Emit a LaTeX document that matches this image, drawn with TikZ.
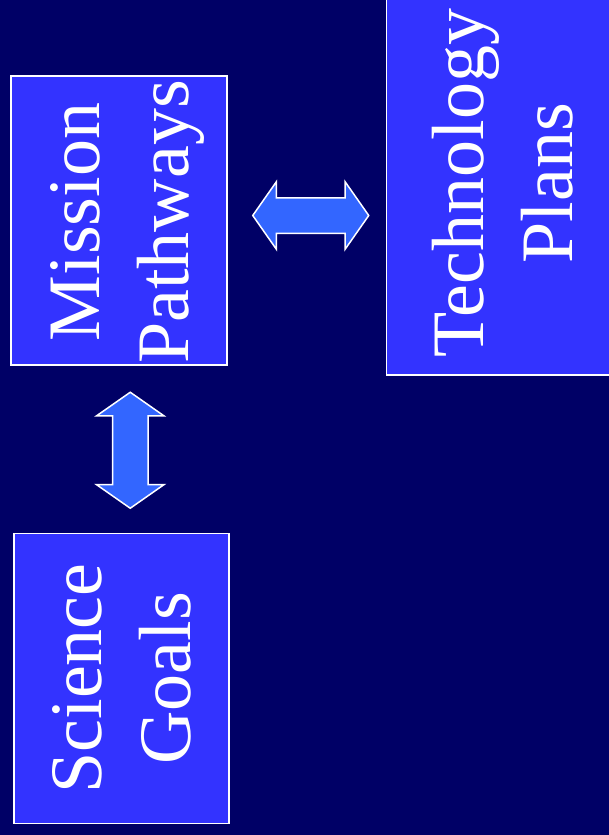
\documentclass[tikz,border=0pt]{standalone}
\usepackage{fontspec}
\setmainfont{Liberation Serif}
\usepackage{tikz}
\usetikzlibrary{calc, positioning, shapes.arrows}
\definecolor{navy}{RGB}{0,0,102}
\definecolor{boxblue}{RGB}{51,51,255}
\definecolor{arrblue}{RGB}{51,102,255}

\begin{document}
\begin{tikzpicture}[x=1pt, y=-1pt,
box/.style = {draw = white, line width = 1.5pt, fill = boxblue, inner sep = 0pt, minimum width = 216pt, minimum height = 289pt},
txt/.style = {text = white, font = \fontsize{74}{89}\selectfont, align = center, inner sep = 0pt, rotate = 90},
dbl/.style = {double arrow, draw = white, line width = 1.5pt, fill = arrblue, inner xsep = 0pt, inner ysep = 17pt,
  minimum height = 116pt, minimum width = 66pt, double arrow head extend = 16pt, double arrow tip angle = 110}]
\useasboundingbox (0,0) rectangle (609,835);
\fill[navy] (0,0) rectangle (609,835);
\clip (0,0) rectangle (609,835);
\node[box] (MP) at (119,220.5) {};
\node[box, below = 167pt of MP, xshift = 2.5pt, minimum width = 215pt, minimum height = 290pt] (SG) {};
\node[box, right = 158pt of MP, yshift = 38pt, minimum width = 235pt, minimum height = 385pt] (TP) {};
\node[txt] (MPt) at ($(MP.center)+(7.5,1.5)$) {\strut Mission\\\strut Pathways};
\node[txt] (SGt) at ($(SG.center)+(7,0)$) {\strut Science\\\strut Goals};
\node[txt] (TPt) at ($(TP.center)+(6,0.5)$) {\strut Technology\\\strut Plans};
\node[dbl] (H) at ($(MP.east)!.5!(MP.east -| TP.west)+(4,-5)$) {};
\node[dbl, rotate = 90] (V) at ($(MP.south)!.5!(SG.north)+(10,1)$) {};
\end{tikzpicture}
\end{document}
